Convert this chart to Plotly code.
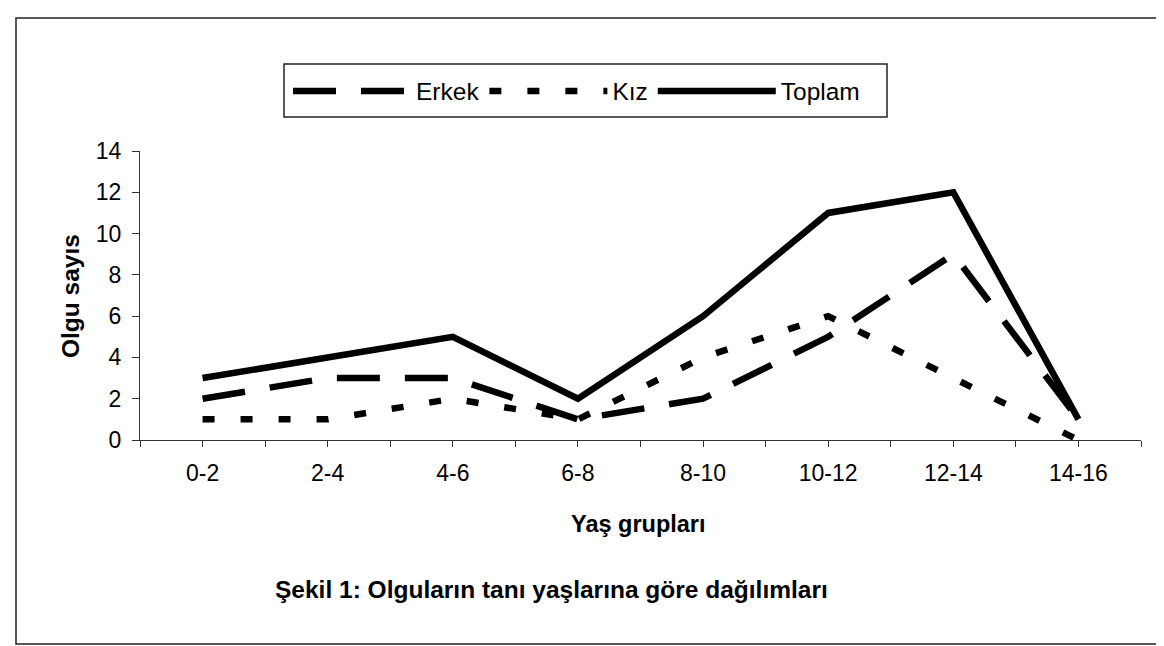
import plotly.graph_objects as go

# ---- data ----
categories = ["0-2", "2-4", "4-6", "6-8", "8-10", "10-12", "12-14", "14-16"]
erkek = [2, 3, 3, 1, 2, 5, 9, 1]
kiz = [1, 1, 2, 1, 4, 6, 3, 0]
toplam = [3, 4, 5, 2, 6, 11, 12, 1]
y_ticks = [0, 2, 4, 6, 8, 10, 12, 14]

W, H = 1164, 646
L, R, T, B = 132, 1133, 143, 432  # plot area in pixels

def px_x(p):
    return (p - L) / (R - L)

def px_y(p):
    return (B - p) / (B - T)

FONT = "Arial, Liberation Sans, Helvetica, sans-serif"
xi = list(range(len(categories)))

fig = go.Figure()
fig.add_trace(go.Scatter(x=xi, y=erkek, name="Erkek", mode="lines",
                         line=dict(color="black", width=6.5, dash="43px,25px")))
fig.add_trace(go.Scatter(x=xi, y=kiz, name="Kız", mode="lines",
                         line=dict(color="black", width=6.5, dash="12px,26px")))
fig.add_trace(go.Scatter(x=xi, y=toplam, name="Toplam", mode="lines",
                         line=dict(color="black", width=6.5)))

# ticks at every half category, labels on categories
tickvals = [i * 0.5 - 0.5 for i in range(2 * len(categories) + 1)]
ticktext = []
for v in tickvals:
    if abs(v - round(v)) < 1e-9:
        ticktext.append(categories[int(round(v))])
    else:
        ticktext.append("")

fig.update_xaxes(range=[-0.5, len(categories) - 0.5], tickvals=tickvals, ticktext=ticktext,
                 showline=True, linecolor="#333", linewidth=1.2, ticks="outside",
                 ticklen=6, tickcolor="#333", showgrid=False, zeroline=False,
                 tickfont=dict(family=FONT, size=23, color="black"), ticklabelstandoff=6)
fig.update_yaxes(range=[0, 14], tickvals=y_ticks, showline=True, linecolor="#333",
                 linewidth=1.2, ticks="outside", ticklen=7, tickcolor="#333",
                 showgrid=False, zeroline=False,
                 tickfont=dict(family=FONT, size=23, color="black"), ticklabelstandoff=6)

annotations = [
    dict(text="<b>Olgu sayıs</b>", x=px_x(62), y=px_y(288), xref="paper", yref="paper",
         textangle=-90, showarrow=False, font=dict(family=FONT, size=24.5, color="black"),
         xanchor="center", yanchor="middle"),
    dict(text="<b>Yaş grupları</b>", x=px_x(630), y=px_y(516), xref="paper", yref="paper",
         showarrow=False, font=dict(family=FONT, size=23.5, color="black"),
         xanchor="center", yanchor="middle"),
    dict(text="<b>Şekil 1: Olguların tanı yaşlarına göre dağılımları</b>", x=px_x(543),
         y=px_y(581), xref="paper", yref="paper", showarrow=False,
         font=dict(family=FONT, size=24.5, color="black"), xanchor="center", yanchor="middle"),
]

shapes = [
    # outer frame
    dict(type="rect", xref="paper", yref="paper", x0=px_x(8), x1=px_x(1156),
         y0=px_y(636), y1=px_y(10), line=dict(color="#222", width=1.5)),
    # legend frame
    dict(type="rect", xref="paper", yref="paper", x0=px_x(276), x1=px_x(879),
         y0=px_y(109), y1=px_y(56), line=dict(color="#222", width=1.5)),
]

fig.update_layout(
    width=W, height=H,
    margin=dict(l=L, r=W - R, t=T, b=H - B),
    paper_bgcolor="white", plot_bgcolor="white",
    showlegend=True,
    legend=dict(orientation="h", x=px_x(280), y=px_y(83), xanchor="left", yanchor="middle",
                xref="paper", yref="paper", itemwidth=118, bgcolor="rgba(0,0,0,0)",
                font=dict(family=FONT, size=24.5, color="black"), traceorder="normal",
                itemclick=False, tracegroupgap=0),
    annotations=annotations,
    shapes=shapes,
)

fig.write_html("out.html")
